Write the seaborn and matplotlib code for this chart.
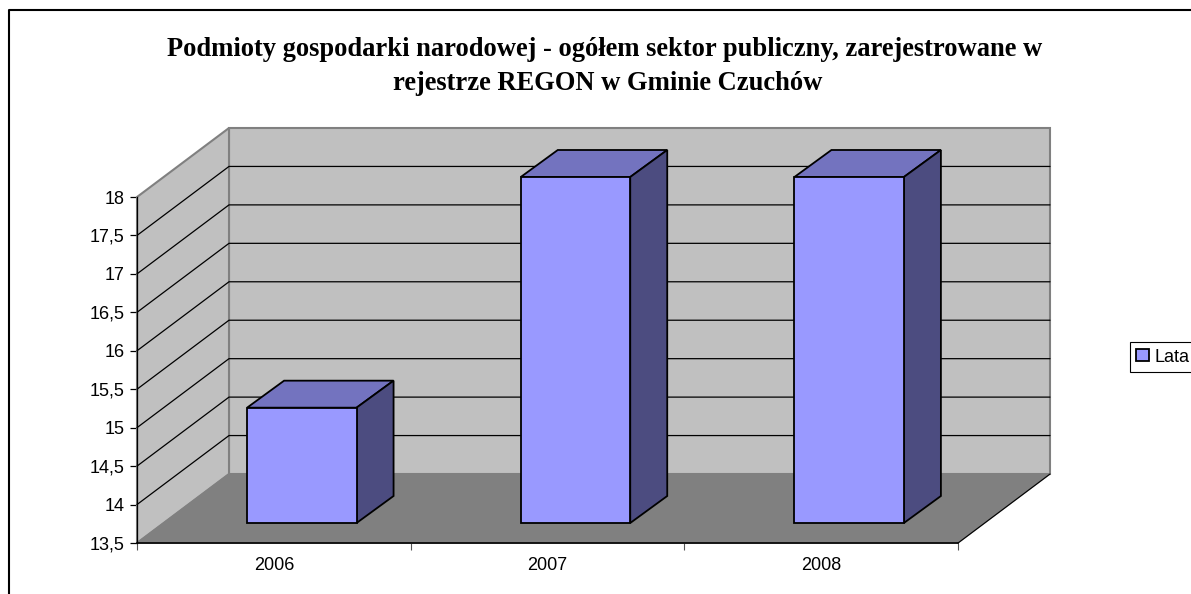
import matplotlib
matplotlib.use("Agg")
import matplotlib.pyplot as plt
from matplotlib.lines import Line2D
from matplotlib.patches import Polygon
from matplotlib.transforms import Affine2D, IdentityTransform
import pandas as pd
import seaborn as sns

years = ["2006", "2007", "2008"]
values = [15, 18, 18]
y_ticks = [13.5, 14, 14.5, 15, 15.5, 16, 16.5, 17, 17.5, 18]
y_labels = ["13,5", "14", "14,5", "15", "15,5", "16", "16,5", "17", "17,5", "18"]
title = ("Podmioty gospodarki narodowej - ogółem sektor publiczny, zarejestrowane w\n"
         "rejestrze REGON w Gminie Czuchów")

W, H = 1191, 594
DX, DY = 92, 69          # depth of the fake 3d box
BAR_DX, BAR_DY = 28, 20  # bar front offset
TOP_DX, TOP_DY = 37, 27  # bar depth

sns.set_theme(style="white")
plt.rcParams["font.family"] = ["Liberation Sans", "DejaVu Sans"]

fig = plt.figure(figsize=(W / 100, H / 100), dpi=100)
ax = fig.add_axes([137 / W, (H - 543) / H, (958 - 137) / W, (543 - 197) / H])
ax.patch.set_alpha(0)

df = pd.DataFrame({"rok": years, "liczba": values})
sns.barplot(data=df, x="rok", y="liczba", ax=ax, width=0.4, color="#9999ff",
            saturation=1, edgecolor="black", linewidth=1.3, label="Lata", zorder=5)
handles, labels = ax.get_legend_handles_labels()
if ax.get_legend() is not None:
    ax.get_legend().remove()
ax.set_xlim(-0.5, 2.5)
ax.set_ylim(13.5, 18)
ax.set_xlabel("")
ax.set_ylabel("")


def px(x, y, dx=0, dy=0):
    a, b = ax.transData.transform((x, y))
    return (a + dx, b + dy)


def face(pts, color, edge, lw=1.0, z=1):
    ax.add_patch(Polygon(pts, closed=True, facecolor=color, edgecolor=edge, linewidth=lw,
                         transform=IdentityTransform(), clip_on=False, zorder=z))


def line(pts, color="black", lw=0.9, z=2):
    ax.add_line(Line2D([p[0] for p in pts], [p[1] for p in pts], color=color, linewidth=lw,
                       transform=IdentityTransform(), clip_on=False, zorder=z))


x0, x1 = -0.5, 2.5
y0, y1 = 13.5, 18
bars = list(ax.patches)
# walls and floor
face([px(x0, y0, DX, DY), px(x1, y0, DX, DY), px(x1, y1, DX, DY), px(x0, y1, DX, DY)], "#c0c0c0", "#808080", 1.5)
face([px(x0, y0), px(x0, y0, DX, DY), px(x0, y1, DX, DY), px(x0, y1)], "#c0c0c0", "#808080", 1.5)
face([px(x0, y0), px(x1, y0), px(x1, y0, DX, DY), px(x0, y0, DX, DY)], "#808080", "#808080", 1.0)
line([px(x1, y0), px(x1, y0, DX, DY)], lw=0.8)

for v in y_ticks[1:-1]:
    line([px(x0, v), px(x0, v, DX, DY), px(x1, v, DX, DY)])

# bar fronts are the seaborn patches, pushed back into the box; sides are added from them
offset = ax.transData + Affine2D().translate(BAR_DX, BAR_DY)
for bar, v in zip(bars, values):
    bar.set_y(y0)
    bar.set_height(v - y0)
    bar.set_transform(offset)
    bar.set_clip_on(False)
    left = bar.get_x()
    right = left + bar.get_width()
    a = px(left, v, BAR_DX, BAR_DY)
    b = px(right, v, BAR_DX, BAR_DY)
    c = px(right, y0, BAR_DX, BAR_DY)
    shift = lambda p: (p[0] + TOP_DX, p[1] + TOP_DY)
    face([a, b, shift(b), shift(a)], "#7373bf", "black", 1.3, z=4)
    face([b, c, shift(c), shift(b)], "#4c4c80", "black", 1.3, z=4)

sns.despine(ax=ax, top=True, right=True)
for side in ["left", "bottom"]:
    ax.spines[side].set_color("black")
    ax.spines[side].set_zorder(6)
ax.spines["left"].set_linewidth(0.9)
ax.spines["bottom"].set_linewidth(1.2)

ax.set_yticks(y_ticks)
ax.set_yticklabels(y_labels, fontsize=13, color="black")
ax.set_xticks([-0.5, 0.5, 1.5, 2.5], labels=[])
ax.set_xticks([0, 1, 2], labels=years, minor=True, fontsize=13, color="black")
ax.tick_params(axis="y", which="major", left=True, length=5, width=0.9, color="black", pad=4)
ax.tick_params(axis="x", which="major", bottom=True, length=5, width=0.8, color="#555555")
ax.tick_params(axis="x", which="minor", bottom=False, length=0, pad=10)

for text, tx, ty in zip(title.split("\n"), [604.5, 607.5], [49, 83]):
    fig.text(tx / W, 1 - ty / H, text, ha="center", va="center", fontsize=19.1,
             fontweight="bold", family="Liberation Serif", color="black")

# outer frame runs off the right and bottom of the picture
fig.add_artist(Line2D([9, 9, W + 5], [-5, H - 10, H - 10], color="black", linewidth=1.5,
                      transform=IdentityTransform()))

leg = fig.legend(handles, labels, loc="lower left", bbox_to_anchor=(1130 / W, (H - 372) / H),
                 fontsize=13, frameon=True, fancybox=False, edgecolor="black", framealpha=1,
                 borderpad=0.35, handlelength=0.68, handleheight=0.62, handletextpad=0.3,
                 borderaxespad=0, labelcolor="black")
leg.get_frame().set_linewidth(0.8)

fig.savefig("out.png", dpi=100)
